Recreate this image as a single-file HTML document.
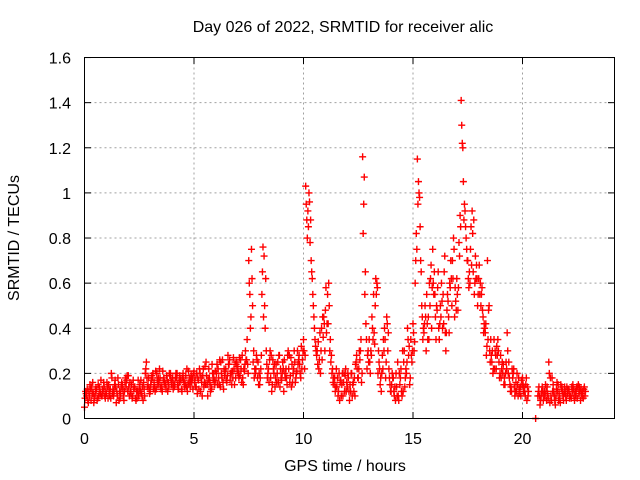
<!DOCTYPE html>
<html><head><meta charset="utf-8"><style>
body{margin:0;background:#fff;}
svg{display:block;font-family:"Liberation Sans",sans-serif;}
</style></head><body>
<svg id="chart" width="640" height="480" xmlns="http://www.w3.org/2000/svg">
<text x="343" y="32" font-size="16" text-anchor="middle">Day 026 of 2022, SRMTID for receiver alic</text>
<text x="345" y="471" font-size="16" text-anchor="middle">GPS time / hours</text>
<text transform="translate(19,238) rotate(-90)" font-size="16" text-anchor="middle">SRMTID / TECUs</text>
<g id="grid"></g><g id="ticks"></g><g id="marks"></g>
<rect x="84.5" y="57.5" width="530" height="361" fill="none" stroke="#000" stroke-width="1"/>
</svg>
<script>
const xTicks=[0,5,10,15,20];
const yTicks=[0,0.2,0.4,0.6,0.8,1,1.2,1.4,1.6];
const yTickLabels=["0","0.2","0.4","0.6","0.8","1","1.2","1.4","1.6"];
const seriesA=[.05,.10,.12,.08,.11,.13,.09,.12,.10,.14,
.11,.15,.09,.13,.17,.10,.12,.16,.08,.14,
.19,.12,.10,.14,.09,.13,.11,.16,.22,.15,
.12,.18,.14,.20,.16,.13,.17,.15,.12,.19,
.16,.14,.18,.13,.17,.20,.15,.12,.18,.16,
.21,.14,.17,.12,.19,.23,.15,.18,.13,.20,
.17,.22,.14,.26,.19,.16,.24,.20,.27,.18,
.23,.19,.28,.21,.26,.70,.45,.25,.20,.18,
.15,.55,.72,.30,.22,.18,.26,.14,.20,.28,
.17,.12,.22,.30,.19,.16,.25,.21,.28,.32,
.35,1.03,.92,.78,.62,.40,.28,.22,.30,.36,
.48,.55,.30,.20,.15,.22,.12,.17,.10,.19,
.14,.08,.20,.12,.25,.18,.30,1.16,.55,.22,
.35,.28,.55,.62,.20,.15,.28,.40,.45,.22,
.12,.18,.08,.25,.15,.10,.30,.20,.28,.35,
.42,.60,1.15,.98,.50,.38,.30,.45,.62,.75,
.55,.48,.35,.60,.42,.30,.52,.58,.70,.45,
.62,.78,1.41,1.05,.85,.70,.60,.92,.55,.68,
.62,.50,.45,.38,.70,.30,.25,.35,.22,.30,
.28,.20,.15,.38,.18,.12,.22,.16,.10,.14,
.18,.12,.08,null,null,null,0,.10,.06,.14,
.12,.08,.25,.10,.15,.06,.12,.09,.14,.11,
.08,.13,.10,.15,.12,.09,.14,.11,.13];
const seriesB=[.12,.08,.15,.11,.09,.13,.10,.17,.12,.09,
.14,.10,.18,.12,.07,.15,.11,.13,.16,.19,
.10,.15,.13,.08,.17,.12,.14,.10,.18,.13,
.17,.13,.21,.15,.18,.12,.16,.19,.14,.17,
.13,.18,.15,.19,.12,.16,.14,.21,.17,.13,
.18,.11,.22,.16,.14,.25,.17,.12,.20,.15,
.24,.15,.20,.13,.22,.28,.17,.21,.15,.25,
.18,.22,.15,.30,.24,.55,.62,.18,.28,.15,
.22,.76,.40,.18,.26,.12,.20,.24,.16,.22,
.25,.20,.15,.28,.14,.22,.18,.24,.20,.26,
.22,.88,1.00,.70,.50,.32,.24,.38,.26,.42,
.38,.60,.25,.16,.12,.18,.08,.15,.20,.12,
.18,.12,.15,.10,.22,.30,.16,.95,.42,.30,
.20,.40,.33,.60,.25,.12,.35,.18,.30,.15,
.20,.10,.14,.08,.22,.12,.18,.40,.15,.25,
.30,.82,1.05,.70,.35,.50,.42,.60,.40,.55,
.35,.65,.50,.40,.72,.48,.38,.62,.80,.52,
.48,.90,1.22,.95,.75,.58,.85,.65,.72,.50,
.55,.58,.42,.28,.48,.35,.20,.30,.28,.18,
.22,.15,.25,.20,.12,.18,.10,.20,.13,.17,
.12,.15,.10,null,null,null,null,.14,.10,.08,
.15,.11,.07,.18,.10,.13,.08,.15,.10,.12,
.11,.09,.14,.10,.12,.15,.08,.12,.10];
const seriesC=[.09,.13,.10,.14,.07,.12,.15,.11,.13,.10,
.16,.12,.20,.10,.14,.18,.09,.15,.12,.17,
.14,.11,.17,.09,.12,.15,.10,.13,.25,.18,
.15,.20,.12,.17,.22,.14,.18,.13,.16,.20,
.18,.15,.20,.16,.13,.17,.19,.15,.14,.18,
.16,.20,.13,.18,.22,.15,.10,.16,.24,.17,
.20,.18,.25,.16,.21,.19,.26,.15,.22,.24,
.20,.26,.18,.24,.35,.60,.75,.30,.22,.25,
.18,.65,.50,.24,.16,.28,.22,.18,.25,.14,
.20,.26,.18,.22,.27,.20,.16,.30,.24,.22,
.30,.95,.85,.88,.55,.35,.30,.26,.40,.45,
.58,.42,.35,.22,.18,.14,.20,.10,.16,.22,
.20,.15,.10,.18,.28,.22,.35,.82,.65,.28,
.25,.45,.38,.55,.30,.18,.22,.35,.42,.18,
.15,.12,.20,.10,.18,.30,.14,.25,.32,.28,
.38,.70,.95,.85,.45,.42,.55,.35,.68,.60,
.45,.58,.42,.52,.65,.38,.45,.70,.62,.58,
.55,.72,1.30,.88,.80,.62,.75,.82,.60,.62,
.68,.55,.38,.42,.35,.25,.30,.22,.32,.25,
.18,.24,.20,.30,.15,.22,.14,.12,.18,.10,
.15,.10,.14,null,null,null,null,.12,.08,.12,
.10,.14,.20,.08,.12,.10,.15,.07,.12,.14,
.14,.12,.09,.13,.10,.14,.12,.10,.14];
const seriesD=[.11,.07,.13,.16,.10,.08,.14,.10,.16,.12,
.09,.13,.11,.15,.12,.08,.14,.10,.18,.12,
.16,.09,.14,.12,.10,.17,.08,.20,.14,.11,
.19,.16,.13,.18,.14,.21,.15,.17,.20,.15,
.15,.20,.13,.17,.18,.14,.22,.16,.19,.20,
.14,.18,.20,.10,.16,.19,.22,.14,.17,.21,
.15,.26,.18,.22,.17,.24,.20,.18,.25,.21,
.27,.16,.22,.26,.20,.40,.50,.22,.26,.20,
.28,.45,.62,.20,.30,.15,.24,.16,.28,.18,
.22,.18,.28,.16,.24,.30,.20,.26,.18,.30,
.28,.80,.96,.65,.45,.30,.34,.20,.45,.30,
.42,.50,.28,.18,.14,.10,.16,.20,.12,.16,
.12,.20,.16,.24,.18,.26,.20,1.07,.35,.25,
.30,.35,.50,.58,.22,.20,.30,.25,.38,.12,
.18,.14,.10,.20,.12,.25,.22,.35,.18,.30,
.34,.75,1.00,.65,.40,.45,.35,.50,.58,.65,
.50,.40,.45,.55,.38,.55,.60,.50,.75,.48,
.58,.85,1.20,.92,.70,.65,.68,.88,.62,.55,
.60,.48,.40,.32,.50,.28,.22,.28,.35,.20,
.25,.18,.22,.25,.14,.20,.12,.15,.11,.15,
.14,.18,.12,null,null,null,null,.10,.12,.10,
.12,.09,.18,.12,.08,.16,.11,.13,.08,.10,
.13,.10,.12,.08,.14,.11,.13,.09,.12];
const tStep=0.1;
const offsets=[0,0.05,0.025,0.075];
const NS="http://www.w3.org/2000/svg";
const X0=84.5,Y0=418.5;
function xs(t){return X0+t*21.9;}
function ys(v){return Y0-v*225.6;}
const grid=document.getElementById('grid'),ticks=document.getElementById('ticks'),marks=document.getElementById('marks');
function mk(tag,attrs,parent){const e=document.createElementNS(NS,tag);for(const k in attrs)e.setAttribute(k,attrs[k]);parent.appendChild(e);return e;}
xTicks.forEach(t=>{const x=xs(t);
 if(t>0){const g=mk('line',{x1:x,x2:x,y1:57.5,y2:418.5,stroke:'#a0a0a0','stroke-dasharray':'2,3'},grid);
 
 }
 mk('line',{x1:x,x2:x,y1:418.5,y2:412,stroke:'#000'},ticks);
 mk('line',{x1:x,x2:x,y1:57.5,y2:64,stroke:'#000'},ticks);
 const l=mk('text',{x:x,y:444,'font-size':16,'text-anchor':'middle'},ticks);l.textContent=t;
 
 });
yTicks.forEach((v,i)=>{const y=ys(v);
 if(v>0&&v<1.6){const g=mk('line',{x1:84.5,x2:614.5,y1:y,y2:y,stroke:'#a0a0a0','stroke-dasharray':'2,3'},grid);
 
 }
 mk('line',{x1:84.5,x2:91,y1:y,y2:y,stroke:'#000'},ticks);
 mk('line',{x1:614.5,x2:608,y1:y,y2:y,stroke:'#000'},ticks);
 const l=mk('text',{x:71,y:y+6,'font-size':16,'text-anchor':'end'},ticks);l.textContent=yTickLabels[i];
 
 });
function plus(t,v){const x=xs(t),y=ys(v);
 const p=mk('path',{d:`M${x-3.5},${y}h7M${x},${y-3.5}v7`,stroke:'#f00','stroke-width':1.4,fill:'none'},marks);
 
 }
[seriesA,seriesB,seriesC,seriesD].forEach((s,k)=>{
 s.forEach((v,i)=>{if(v!==null)plus(i*tStep+offsets[k],v);});
});
</script>
</body></html>
